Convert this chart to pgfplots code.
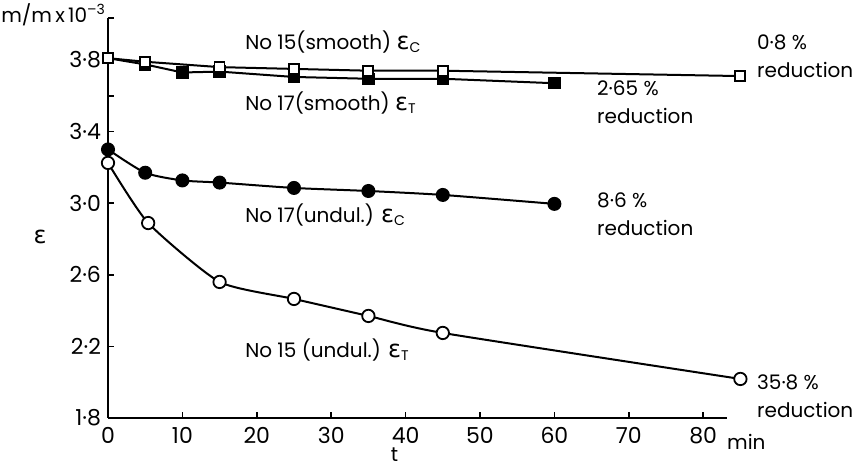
\documentclass[border=0pt]{standalone}
\usepackage{fontspec}
\setmainfont{Poppins}
\newfontfamily\greekfont{DejaVu Sans}
\usepackage{pgfplots}
\pgfplotsset{compat=1.18}

% data (t in min, strain x 10^-3)
\pgfplotstableread{
t     e
0     3.81
5     3.79
15    3.76
25    3.75
35    3.74
45    3.74
85    3.71
}\smoothC
\pgfplotstableread{
t     e
0     3.81
5     3.775
10    3.73
15    3.735
25    3.705
35    3.695
45    3.695
60    3.67
}\smoothT
\pgfplotstableread{
t     e
0     3.30
5     3.17
10    3.127
15    3.115
25    3.085
35    3.068
45    3.046
60    2.996
}\undulC
\pgfplotstableread{
t     e
0     3.225
5.4   2.889
15    2.56
25    2.465
35    2.37
45    2.275
85    2.018
}\undulT

\newcommand{\eps}{{\greekfont\fontsize{12}{12}\selectfont ε}}

\begin{document}
\fontsize{10}{12}\selectfont
\begin{tikzpicture}
\begin{axis}[
  scale only axis,
  width=309.5pt, height=200pt,
  xmin=0, xmax=83.2,
  ymin=1.8, ymax=4.0346,
  axis lines=left,
  axis line style={-, line width=0.9pt},
  tick align=inside,
  major tick length=3pt,
  tick style={line width=0.8pt, black},
  xtick={0,10,20,30,40,50,60,70,80},
  ytick={1.8,2.2,2.6,3.0,3.4,3.8},
  yticklabels={1·8,2·2,2·6,3·0,3·4,3·8},
  extra y ticks={3.6,4.0346},
  extra y tick labels={},
  /pgf/number format/assume math mode=true,
  tick label style={font=\fontsize{11}{12}\selectfont},
  xticklabel style={yshift=-1pt},
  clip=false,
  every axis plot/.append style={line width=1pt, black},
]
\path (axis cs:-14.516,1.5318) rectangle (axis cs:101.21,4.135);

\addplot[mark=square*, mark size=2.6pt, mark options={fill=black}] table[x=t,y=e] {\smoothT};
\addplot[mark=square*, mark size=2.5pt, mark options={fill=white, line width=0.9pt}] table[x=t,y=e] {\smoothC};
\addplot[smooth, tension=0.4, mark=*, mark size=3pt, mark options={fill=black}] table[x=t,y=e] {\undulC};
\addplot[smooth, tension=0.35, mark=*, mark size=3.1pt, mark options={fill=white, line width=0.9pt}] table[x=t,y=e] {\undulT};

\begin{scope}[every node/.style={inner sep=0pt, font=\fontsize{10}{14}\selectfont}]
\node[anchor=west] at (axis cs:18.4,3.90) {No 15(smooth) \eps\textsubscript{C}};
\node[anchor=west] at (axis cs:18.4,3.56) {No 17(smooth) \eps\textsubscript{T}};
\node[anchor=west] at (axis cs:18.4,2.934) {No 17(undul.) \eps\textsubscript{C}};
\node[anchor=west] at (axis cs:18.4,2.18) {No 15 (undul.) \eps\textsubscript{T}};

\node[anchor=west, align=left] at (axis cs:87.2,3.822) {0·8 \%\\reduction};
\node[anchor=west, align=left] at (axis cs:65.7,3.565) {2·65 \%\\reduction};
\node[anchor=west, align=left] at (axis cs:65.7,2.94) {8·6 \%\\reduction};
\node[anchor=west, align=left] at (axis cs:87.2,1.923) {35·8 \%\\reduction};

\node[anchor=base west] at (axis cs:-14.4,4.012) {m/m\,x\,10\textsuperscript{–3}};
\node at (axis cs:-9.14,2.81) {\eps};
\node at (axis cs:38.5,1.597) {t};
\node at (axis cs:85.8,1.666) {min};
\end{scope}
\end{axis}
\end{tikzpicture}
\end{document}
